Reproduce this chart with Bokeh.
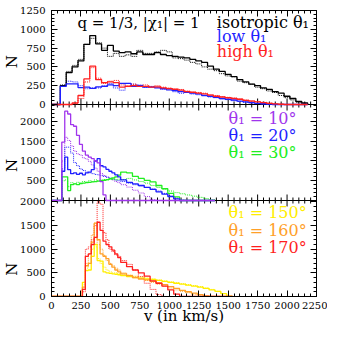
from bokeh.plotting import figure
from bokeh.models import Range1d, LinearAxis, FixedTicker, CustomJSTickFormatter, Label
from bokeh.embed import file_html
from bokeh.resources import INLINE

# ---------------- data ----------------
# top panel: 50 km/s bins starting at 75
top_edges = [75 + 50 * i for i in range(43)]
iso_solid = [250, 425, 500, 580, 800, 917, 807, 720, 785, 710, 690, 700, 675, 700, 665,
             665, 690, 665, 650, 640, 630, 620, 600, 580, 560, 510, 470, 440, 400, 370, 330,
             300, 270, 250, 220, 200, 170, 150, 110, 80, 40, 20]
iso_dot = [260, 440, 520, 600, 800, 880, 820, 750, 640, 680, 640, 660, 640, 720, 680,
           680, 700, 720, 700, 620, 610, 590, 560, 540, 500, 470, 450, 410, 380, 370, 310,
           290, 270, 230, 210, 180, 160, 120, 90, 60, 30, 10]
low_solid = [240, 275, 275, 225, 230, 215, 235, 240, 260, 250, 280, 280, 240, 250, 230,
             230, 220, 210, 195, 185, 170, 160, 150, 140, 120, 110, 95, 80, 70, 60, 45,
             35, 25, 15, 10, 5, 0, 0, 0, 0, 0, 0]
low_dot = [250, 310, 300, 250, 210, 220, 220, 250, 280, 220, 190, 280, 270, 260, 230,
           240, 230, 200, 210, 170, 150, 170, 140, 130, 120, 100, 90, 75, 65, 50, 40,
           30, 20, 15, 8, 0, 0, 0, 0, 0, 0, 0]
high_solid = [0, 0, 20, 120, 340, 510, 330, 290, 300, 290, 230, 240, 250, 240, 240,
              230, 235, 220, 210, 200, 190, 170, 160, 150, 140, 125, 110, 100, 90, 80, 70,
              55, 45, 35, 25, 15, 8, 3, 0, 0, 0, 0]
high_dot = [0, 0, 10, 80, 300, 490, 350, 280, 310, 320, 260, 250, 270, 250, 260,
            240, 250, 230, 220, 210, 200, 180, 170, 160, 150, 130, 120, 105, 95, 85, 75,
            60, 50, 40, 30, 20, 10, 5, 0, 0, 0, 0]

# middle panel: 25 km/s bins from 87.5 to 587.5, then 50 km/s bins
mid_edges = [87.5 + 25 * i for i in range(20)] + [587.5 + 50 * i for i in range(17)]
t10_solid = [1480, 2260, 2190, 1920, 1880, 1650, 1420, 1250, 1150, 1100, 1060, 1000, 950, 480, 140,
             0, 0, 0, 0, 0, 0, 0, 0, 0, 0, 0, 0, 0, 0, 0, 0, 0, 0, 0, 0, 0]
t10_dot = [1000, 1600, 1520, 1380, 1250, 1180, 1150, 1080, 1050, 990, 900, 820, 740, 680, 630,
           590, 550, 520, 480, 450, 400, 340, 260, 190, 100, 20, 0, 0, 0, 0, 0, 0, 0, 0, 0, 0]
t20_solid = [740, 1100, 780, 680, 700, 660, 690, 650, 700, 720, 780, 1000, 1060, 880, 850,
             790, 740, 700, 650, 600, 520, 460, 420, 380, 330, 280, 220, 160, 100, 40,
             0, 0, 0, 0, 0, 0]
t20_dot = [800, 1350, 1350, 1200, 960, 880, 800, 760, 720, 700, 680, 660, 650, 630, 610,
           590, 570, 540, 520, 500, 480, 440, 400, 370, 330, 290, 240, 180, 120, 60,
           10, 0, 0, 0, 0, 0]
t30_solid = [600, 600, 250, 400, 420, 400, 430, 440, 450, 460, 470, 480, 490, 500, 510,
             530, 550, 570, 600, 640, 720, 700, 610, 560, 510, 470, 380, 300, 180, 90,
             0, 0, 0, 0, 0, 0]
t30_dot = [500, 520, 350, 450, 430, 460, 440, 480, 470, 500, 480, 520, 500, 520, 530,
           520, 540, 530, 520, 540, 530, 560, 520, 480, 440, 380, 330, 280, 240, 200,
           170, 140, 110, 80, 50, 20]

# bottom panel: 25 km/s bins from 262.5 to 587.5, then 50 km/s bins
bot_edges = [262.5 + 25 * i for i in range(13)] + [587.5 + 50 * i for i in range(20)]
t150_solid = [300, 550, 560, 850, 1100, 760, 750, 520, 500, 490, 480, 470, 460,
              440, 420, 400, 390, 370, 360, 340, 320, 300, 280, 260, 240, 220, 200, 170, 140, 110, 60, 0]
t150_dot = [250, 600, 700, 1000, 1050, 800, 700, 620, 560, 520, 500, 500, 480,
            470, 450, 430, 410, 390, 370, 350, 330, 310, 290, 270, 250, 230, 210, 180, 150, 110, 60, 10]
t160_solid = [200, 650, 700, 1150, 1550, 1200, 900, 850, 800, 680, 620, 560, 520,
              480, 440, 400, 370, 350, 320, 290, 250, 210, 170, 130, 100, 70, 40, 15, 0, 0, 0, 0]
t160_dot = [150, 700, 900, 1300, 1550, 1100, 1000, 870, 760, 700, 650, 600, 560,
            500, 450, 420, 380, 340, 300, 260, 220, 180, 140, 110, 80, 50, 30, 10, 0, 0, 0, 0]
t170_solid = [150, 850, 900, 1100, 1250, 1570, 1400, 1170, 1100, 1050, 980, 900, 820,
              720, 630, 560, 500, 430, 330, 280, 220, 140, 50, 0, 0, 0, 0, 0, 0, 0, 0, 0]
t170_dot = [100, 1000, 1050, 1200, 1500, 2000, 1950, 1350, 1200, 1000, 950, 880, 850,
            760, 680, 560, 420, 280, 150, 40, 0, 0, 0, 0, 0, 0, 0, 0, 0, 0, 0, 0]

x_major = [0, 250, 500, 750, 1000, 1250, 1500, 1750, 2000, 2250]
top_major = [0, 250, 500, 750, 1000, 1250]
mid_major = [500, 1000, 1500, 2000]
bot_major = [0, 500, 1000, 1500, 2000]

# ---------------- layout constants ----------------
XMAX = 2250
H_TOP, H_MID, H_BOT = 94, 96, 96
H = H_TOP + H_MID + H_BOT
TOP_MAX, MID_MAX, BOT_MAX = 1250, 2430, 2030
B_MID, B_TOP = H_BOT, H_BOT + H_MID
BORDER_TOP = 10

FONT = "DejaVu Serif"

p = figure(width=327, height=327, x_range=Range1d(0, XMAX), y_range=Range1d(0, H),
           output_backend="svg", toolbar_location=None,
           x_axis_location=None, y_axis_location=None,
           min_border_left=45, min_border_right=11, min_border_top=BORDER_TOP,
           min_border_bottom=327 - BORDER_TOP - H)
for g in p.grid:
    g.visible = False
p.outline_line_color = "black"
p.outline_line_width = 1
p.background_fill_color = "white"
p.border_fill_color = "white"

s_top = TOP_MAX / H_TOP
s_mid = MID_MAX / H_MID
s_bot = BOT_MAX / H_BOT
p.extra_y_ranges = {
    "top": Range1d(-B_TOP * s_top, (H - B_TOP) * s_top),
    "mid": Range1d(-B_MID * s_mid, (H - B_MID) * s_mid),
    "bot": Range1d(0, H * s_bot),
}

def pos_top(v):
    return B_TOP + v / s_top

def pos_mid(v):
    return B_MID + v / s_mid

def pos_bot(v):
    return v / s_bot

# y ticks on the shared (pixel-like) main range
y_pos, y_lab = [], []
for v in bot_major:
    y_pos.append(pos_bot(v)); y_lab.append(str(v))
for v in mid_major:
    y_pos.append(pos_mid(v)); y_lab.append(str(v))
for v in top_major:
    y_pos.append(pos_top(v)); y_lab.append(str(v))
y_minor = ([pos_bot(v) for v in range(100, 2001, 100) if v % 500]
           + [pos_mid(v) for v in range(100, 2401, 100) if v % 500]
           + [pos_top(v) for v in range(50, 1251, 50) if v % 250])
x_minor = [v for v in range(50, XMAX, 50) if v % 250]

y_ticker = FixedTicker(ticks=y_pos, minor_ticks=y_minor)
x_ticker = FixedTicker(ticks=x_major, minor_ticks=x_minor)
y_fmt = CustomJSTickFormatter(args=dict(pos=y_pos, lab=y_lab), code="""
let best = 0, d = 1e9;
for (let i = 0; i < pos.length; i++) { const e = Math.abs(pos[i] - tick); if (e < d) { d = e; best = i; } }
return lab[best];
""")
blank = CustomJSTickFormatter(code="return '';")

def style(ax, labels=True):
    ax.major_tick_in = 6
    ax.major_tick_out = 0
    ax.minor_tick_in = 3
    ax.minor_tick_out = 0
    ax.axis_line_color = "black"
    ax.major_tick_line_color = "black"
    ax.minor_tick_line_color = "black"
    ax.major_label_text_font = FONT
    ax.major_label_text_font_size = "10px"
    ax.major_label_text_color = "black"
    ax.axis_label_text_font = FONT
    ax.axis_label_text_font_style = "normal"
    ax.axis_label_text_color = "black"
    if not labels:
        ax.major_label_standoff = 0

xb = LinearAxis(ticker=x_ticker, axis_label="v (in km/s)"); style(xb)
xb.major_label_standoff = 5
xb.axis_label_standoff = -5
xb.axis_label_text_font_size = "15px"
p.add_layout(xb, "below")
xa = LinearAxis(ticker=x_ticker, formatter=blank); style(xa, False)
p.add_layout(xa, "above")

# one "N" per panel: panel centres are ~101 px apart along the rotated label
gap = "\u00a0" * 19
yl = LinearAxis(ticker=y_ticker, formatter=y_fmt,
                axis_label="N" + gap + "N" + gap + "N" + "\u00a0" * 5)
style(yl)
yl.major_label_standoff = 6
yl.axis_label_standoff = -4
yl.axis_label_text_font_size = "15px"
p.add_layout(yl, "left")
yr = LinearAxis(ticker=y_ticker, formatter=blank); style(yr, False)
p.add_layout(yr, "right")

# separators with inner ticks on both sides
for b in (B_MID, B_TOP):
    p.segment(x0=[0], y0=[b], x1=[XMAX], y1=[b], line_color="black", line_width=1)
    p.segment(x0=x_major, y0=[b - 6] * len(x_major), x1=x_major, y1=[b + 6] * len(x_major),
              line_color="black", line_width=1)
    p.segment(x0=x_minor, y0=[b - 3] * len(x_minor), x1=x_minor, y1=[b + 3] * len(x_minor),
              line_color="black", line_width=1)

def step_xy(edges, vals):
    xs = [0, edges[0]]
    ys = [0, 0]
    for i, v in enumerate(vals):
        xs += [edges[i], edges[i + 1]]
        ys += [v, v]
    xs.append(edges[len(vals)])
    ys.append(0)
    return xs, ys

def hist(edges, vals, rng, color, dotted=False):
    xs, ys = step_xy(edges, vals)
    if dotted:
        p.line(xs, ys, y_range_name=rng, line_color=color, line_width=1, line_dash="1 1")
    else:
        p.line(xs, ys, y_range_name=rng, line_color=color, line_width=1.3)

BLACK, BLUE, RED = "black", "#1f1fff", "#ff1f1f"
PURPLE, GREEN = "#a035ec", "#20ee20"
YELLOW, ORANGE = "#ffee00", "#ffa028"

hist(top_edges, iso_dot, "top", BLACK, True)
hist(top_edges, low_dot, "top", BLUE, True)
hist(top_edges, high_dot, "top", RED, True)
hist(top_edges, iso_solid, "top", BLACK)
hist(top_edges, low_solid, "top", BLUE)
hist(top_edges, high_solid, "top", RED)

hist(mid_edges, t10_dot, "mid", PURPLE, True)
hist(mid_edges, t20_dot, "mid", BLUE, True)
hist(mid_edges, t30_dot, "mid", GREEN, True)
hist(mid_edges, t30_solid, "mid", GREEN)
hist(mid_edges, t20_solid, "mid", BLUE)
hist(mid_edges, t10_solid, "mid", PURPLE)

hist(bot_edges, t150_dot, "bot", YELLOW, True)
hist(bot_edges, t160_dot, "bot", ORANGE, True)
hist(bot_edges, t170_dot, "bot", RED, True)
hist(bot_edges, t150_solid, "bot", YELLOW)
hist(bot_edges, t160_solid, "bot", ORANGE)
hist(bot_edges, t170_solid, "bot", RED)

def txt(x, y, s, color="black", size="16px", align="left"):
    p.add_layout(Label(x=x, y=y, text=s, text_color=color, text_font=FONT,
                       text_font_size=size, text_align=align, text_baseline="middle"))

txt(739, 274, "q = 1/3, |\u03c7\u2081| = 1", size="15px", align="center")
txt(1404, 274, "isotropic \u03b8\u2081")
txt(1404, 260, "low \u03b8\u2081", BLUE)
txt(1404, 245, "high \u03b8\u2081", RED)
txt(1503, 178, "\u03b8\u2081 = 10\u00b0", PURPLE)
txt(1503, 161, "\u03b8\u2081 = 20\u00b0", BLUE)
txt(1503, 144, "\u03b8\u2081 = 30\u00b0", GREEN)
txt(1503, 84, "\u03b8\u2081 = 150\u00b0", YELLOW)
txt(1503, 66, "\u03b8\u2081 = 160\u00b0", ORANGE)
txt(1503, 49, "\u03b8\u2081 = 170\u00b0", RED)

open("out.html", "w").write(file_html(p, INLINE))
